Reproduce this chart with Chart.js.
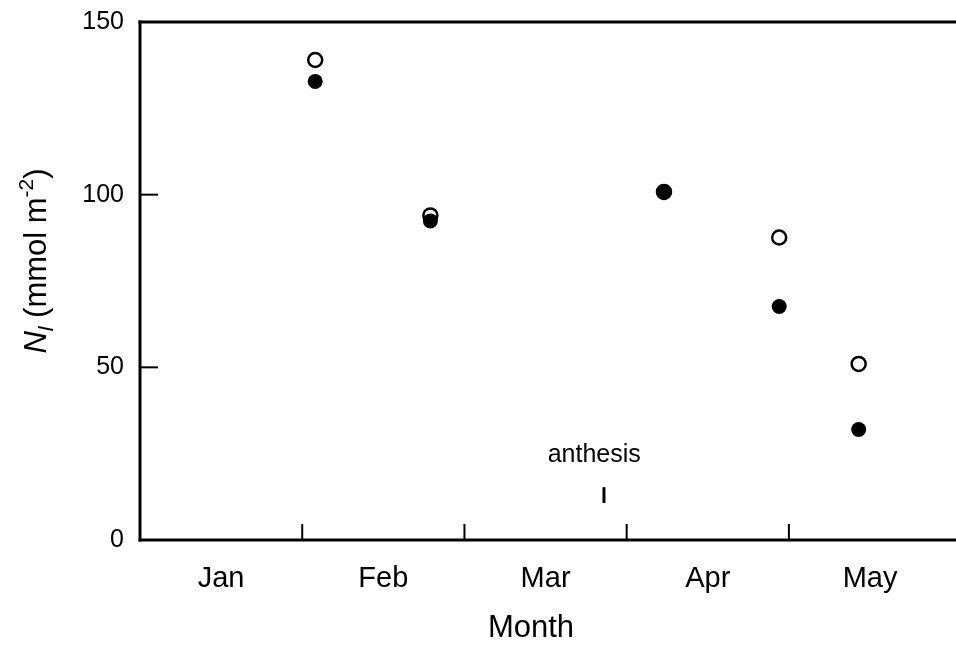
<!DOCTYPE html>
<html>
<head>
<meta charset="utf-8">
<script src="https://cdn.jsdelivr.net/npm/chart.js@4.4.0/dist/chart.umd.min.js"></script>
<style>
  html, body { margin: 0; padding: 0; background: #fff; }
  #chart { display: block; }
</style>
</head>
<body>
<canvas id="chart" width="956" height="649"></canvas>
<script>
// x axis: months since 1 Jan, labels sit in the middle of each month
const months = ['Jan', 'Feb', 'Mar', 'Apr', 'May'];
const monthStarts = [1, 2, 3, 4];
const yTickValues = [50, 100];

// sampling dates (months since 1 Jan)
const sampleTimes = [1.08, 1.79, 3.23, 3.94, 4.43];
// N_l in mmol m-2
const openValues = [139, 94, 100.8, 87.6, 51];
const filledValues = [132.8, 92.4, 100.8, 67.6, 32];

// anthesis marker
const anthesisTime = 2.86;
const anthesisRange = [10.7, 15.3];
const anthesisLabel = { time: 2.80, value: 22.6, text: 'anthesis' };

const FONT = '"Liberation Sans", Arial, sans-serif';
Chart.defaults.font.family = FONT;
Chart.defaults.color = '#000';

function toPoints(xs, ys) {
  return xs.map((t, i) => ({ x: t, y: ys[i] }));
}

function drawLine(ctx, x1, y1, x2, y2) {
  ctx.beginPath();
  ctx.moveTo(x1, y1);
  ctx.lineTo(x2, y2);
  ctx.stroke();
}

// axes frame, inward ticks, annotation and axis titles
const framePlugin = {
  id: 'frame',
  afterDraw(chart) {
    const { ctx, chartArea: a, scales: { x, y } } = chart;
    ctx.save();
    ctx.strokeStyle = '#000';
    ctx.fillStyle = '#000';
    ctx.lineCap = 'square';

    ctx.lineWidth = 3;
    drawLine(ctx, a.left, a.top, a.right, a.top);
    drawLine(ctx, a.left, a.top, a.left, a.bottom);
    drawLine(ctx, a.left, a.bottom, a.right, a.bottom);

    ctx.lineWidth = 2;
    ctx.lineCap = 'butt';
    monthStarts.forEach(m => {
      const px = x.getPixelForValue(m);
      drawLine(ctx, px, a.bottom, px, a.bottom - 16);
    });
    yTickValues.forEach(v => {
      const py = y.getPixelForValue(v);
      drawLine(ctx, a.left, py, a.left + 18, py);
    });

    // anthesis
    ctx.lineWidth = 3;
    const ax = x.getPixelForValue(anthesisTime);
    drawLine(ctx, ax, y.getPixelForValue(anthesisRange[0]), ax, y.getPixelForValue(anthesisRange[1]));
    ctx.font = '25px ' + FONT;
    ctx.textAlign = 'center';
    ctx.textBaseline = 'alphabetic';
    ctx.fillText(anthesisLabel.text, x.getPixelForValue(anthesisLabel.time), y.getPixelForValue(anthesisLabel.value));

    // x title
    ctx.font = '31px ' + FONT;
    ctx.textBaseline = 'middle';
    ctx.fillText('Month', 531, 628);

    // y title: N_l (mmol m^-2), rotated
    const parts = [
      { t: 'N', font: 'italic 31px ' + FONT, dy: 0 },
      { t: 'l', font: 'italic 21px ' + FONT, dy: 7 },
      { t: ' (mmol m', font: '31px ' + FONT, dy: 0 },
      { t: '-2', font: '21px ' + FONT, dy: -13 },
      { t: ')', font: '31px ' + FONT, dy: 0 }
    ];
    let total = 0;
    parts.forEach(p => { ctx.font = p.font; p.w = ctx.measureText(p.t).width; total += p.w; });
    ctx.translate(46, 261);
    ctx.rotate(-Math.PI / 2);
    ctx.textAlign = 'left';
    ctx.textBaseline = 'alphabetic';
    let cx = -total / 2;
    parts.forEach(p => {
      ctx.font = p.font;
      ctx.fillText(p.t, cx, p.dy);
      cx += p.w;
    });
    ctx.restore();
  }
};

new Chart(document.getElementById('chart'), {
  type: 'scatter',
  data: {
    datasets: [
      {
        label: 'filled',
        data: toPoints(sampleTimes, filledValues),
        pointRadius: 7.5,
        pointBackgroundColor: '#000',
        pointBorderColor: '#000',
        pointBorderWidth: 0
      },
      {
        label: 'open',
        data: toPoints(sampleTimes, openValues),
        pointRadius: 7,
        pointBackgroundColor: '#fff',
        pointBorderColor: '#000',
        pointBorderWidth: 2.5
      }
    ]
  },
  options: {
    responsive: false,
    animation: false,
    layout: { autoPadding: false, padding: { top: 22, left: 0, right: 0, bottom: 0 } },
    plugins: {
      legend: { display: false },
      tooltip: { enabled: false }
    },
    scales: {
      x: {
        type: 'linear',
        min: 0,
        max: 5.03,
        grid: { display: false, drawTicks: false },
        border: { display: false },
        afterBuildTicks: axis => { axis.ticks = months.map((m, i) => ({ value: i + 0.5 })); },
        afterFit: axis => {
          axis.height = 109;
          axis.paddingLeft = 0;
          axis.paddingRight = 0;
        },
        ticks: {
          padding: 22,
          maxRotation: 0,
          autoSkip: false,
          font: { size: 29 },
          callback: (v, i) => months[i]
        }
      },
      y: {
        min: 0,
        max: 150,
        grid: { display: false, drawTicks: false },
        border: { display: false },
        afterFit: axis => {
          axis.width = 140;
          axis.paddingTop = 0;
          axis.paddingBottom = 0;
        },
        ticks: {
          stepSize: 50,
          padding: 16,
          font: { size: 25 }
        }
      }
    }
  },
  plugins: [framePlugin]
});
</script>
</body>
</html>
